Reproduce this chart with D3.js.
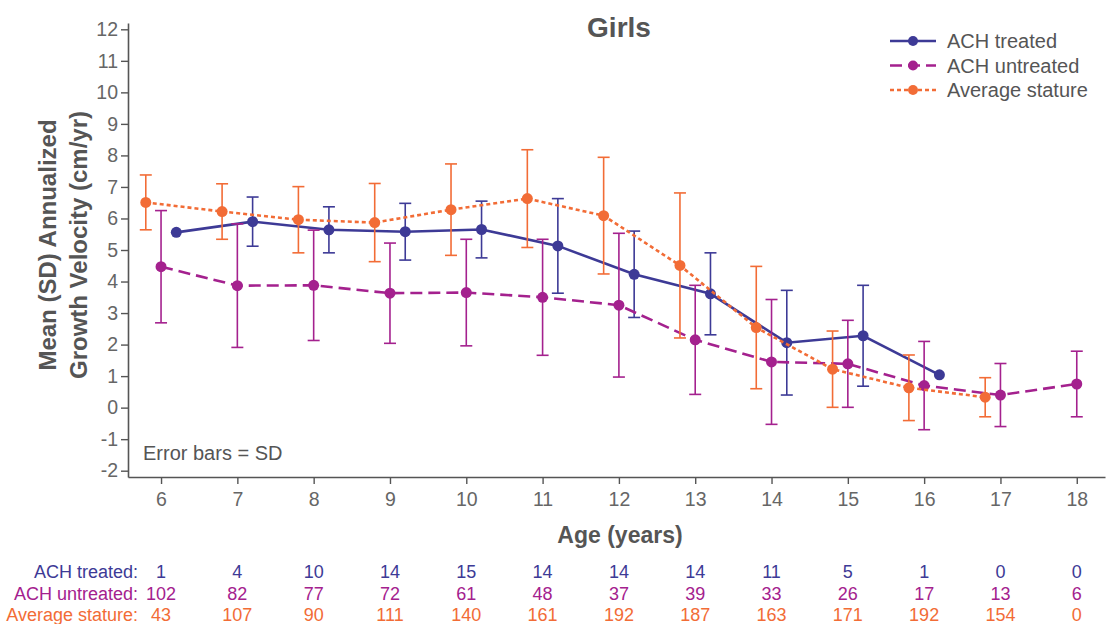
<!DOCTYPE html>
<html>
<head>
<meta charset="utf-8">
<script src="https://cdn.jsdelivr.net/npm/d3@7"></script>
<style>
  body { margin: 0; background: #fff; }
  svg { font-family: "Liberation Sans", Arial, sans-serif; }
</style>
</head>
<body>
<div id="chart"></div>
<script>
const ages = [6, 7, 8, 9, 10, 11, 12, 13, 14, 15, 16, 17, 18];

// mean and SD per age (null = no data)
const treatedMean = [5.56, 5.90, 5.64, 5.58, 5.65, 5.13, 4.23, 3.61, 2.06, 2.28, 1.04, null, null];
const treatedSD   = [null, 0.78, 0.73, 0.90, 0.90, 1.50, 1.37, 1.30, 1.66, 1.60, null, null, null];

const untreatedMean = [4.47, 3.87, 3.88, 3.63, 3.65, 3.50, 3.25, 2.15, 1.45, 1.39, 0.70, 0.40, 0.75];
const untreatedSD   = [1.78, 1.96, 1.75, 1.59, 1.69, 1.84, 2.28, 1.73, 1.98, 1.38, 1.40, 1.00, 1.04];

const averageMean = [6.51, 6.22, 5.96, 5.87, 6.28, 6.63, 6.09, 4.51, 2.54, 1.22, 0.63, 0.33, null];
const averageSD   = [0.87, 0.88, 1.05, 1.24, 1.45, 1.55, 1.85, 2.30, 1.94, 1.21, 1.04, 0.62, null];

const treatedN   = [1, 4, 10, 14, 15, 14, 14, 14, 11, 5, 1, 0, 0];
const untreatedN = [102, 82, 77, 72, 61, 48, 37, 39, 33, 26, 17, 13, 6];
const averageN   = [43, 107, 90, 111, 140, 161, 192, 187, 163, 171, 192, 154, 0];

const yTicks = d3.range(-2, 13);

const width = 1109, height = 624;
const grey = '#555';

const series = [
  { name: 'ACH treated', mean: treatedMean, sd: treatedSD, n: treatedN, color: '#3d3a96', dash: null, offset: 0.2 },
  { name: 'ACH untreated', mean: untreatedMean, sd: untreatedSD, n: untreatedN, color: '#a4218e', dash: '12,6', offset: 0 },
  { name: 'Average stature', mean: averageMean, sd: averageSD, n: averageN, color: '#f26c36', dash: '4,3', offset: -0.2 }
];

const svg = d3.select('#chart')
    .append('svg')
    .attr('width', width)
    .attr('height', height);

const x = d3.scaleLinear().domain([5.567, 18.37]).range([128, 1105]);
const y = d3.scaleLinear().domain([-2.2, 12.2]).range([477, 23]);

// axes (plain hyphen for negatives, like the original)
const yAxis = svg.append('g')
    .attr('transform', `translate(${x(5.567)},0)`)
    .call(d3.axisLeft(y).tickValues(yTicks).tickFormat(d => String(d))
        .tickSize(7).tickSizeOuter(0).tickPadding(3));
const xAxis = svg.append('g')
    .attr('transform', `translate(0,${y(-2.2)})`)
    .call(d3.axisBottom(x).tickValues(ages).tickFormat(d => String(d))
        .tickSize(7).tickSizeOuter(0).tickPadding(8));

[yAxis, xAxis].forEach(a => {
  a.select('.domain').attr('stroke', grey).attr('stroke-width', 1.6);
  a.selectAll('.tick line').attr('stroke', grey).attr('stroke-width', 1.4);
  a.selectAll('.tick text')
      .style('font-size', '19.5px')
      .style('font-family', '"Liberation Sans", Arial, sans-serif')
      .attr('fill', '#666');
});

// title and axis labels
svg.append('text')
    .attr('x', 619).attr('y', 37)
    .attr('text-anchor', 'middle')
    .style('font-size', '28px').style('font-weight', 'bold')
    .attr('fill', grey)
    .text('Girls');

svg.append('text')
    .attr('x', 620).attr('y', 543)
    .attr('text-anchor', 'middle')
    .style('font-size', '23px').style('font-weight', 'bold')
    .attr('fill', grey)
    .text('Age (years)');

const yLabel = svg.append('text')
    .attr('transform', 'translate(0,245) rotate(-90)')
    .attr('text-anchor', 'middle')
    .style('font-size', '24px').style('font-weight', 'bold')
    .attr('fill', grey);
yLabel.append('tspan').attr('x', 0).attr('y', 56).text('Mean (SD) Annualized');
yLabel.append('tspan').attr('x', 0).attr('y', 87).text('Growth Velocity (cm/yr)');

svg.append('text')
    .attr('x', 143).attr('y', 460)
    .style('font-size', '20px')
    .attr('fill', grey)
    .text('Error bars = SD');

// series: lines, error bars, markers
series.forEach(s => {
  const pts = ages.map((a, i) => ({ a: a + s.offset, m: s.mean[i], sd: s.sd[i] }))
      .filter(d => d.m !== null);

  const line = d3.line().x(d => x(d.a)).y(d => y(d.m));
  const g = svg.append('g');

  g.append('path')
      .datum(pts)
      .attr('d', line)
      .attr('fill', 'none')
      .attr('stroke', s.color)
      .attr('stroke-width', 2.6)
      .attr('stroke-dasharray', s.dash);

  const eb = pts.filter(d => d.sd !== null);
  const bars = g.selectAll('g.eb').data(eb).enter().append('g')
      .attr('stroke', s.color)
      .attr('stroke-width', 1.6);
  bars.append('line')
      .attr('x1', d => x(d.a)).attr('x2', d => x(d.a))
      .attr('y1', d => y(d.m + d.sd)).attr('y2', d => y(d.m - d.sd));
  bars.append('line')
      .attr('x1', d => x(d.a) - 6).attr('x2', d => x(d.a) + 6)
      .attr('y1', d => y(d.m + d.sd)).attr('y2', d => y(d.m + d.sd));
  bars.append('line')
      .attr('x1', d => x(d.a) - 6).attr('x2', d => x(d.a) + 6)
      .attr('y1', d => y(d.m - d.sd)).attr('y2', d => y(d.m - d.sd));

  g.selectAll('circle').data(pts).enter().append('circle')
      .attr('cx', d => x(d.a)).attr('cy', d => y(d.m))
      .attr('r', 5.5)
      .attr('fill', s.color);
});

// legend
const legend = svg.append('g');
series.forEach((s, i) => {
  const ly = 41 + i * 24.5;
  legend.append('line')
      .attr('x1', 890).attr('x2', 936).attr('y1', ly).attr('y2', ly)
      .attr('stroke', s.color).attr('stroke-width', 2.6)
      .attr('stroke-dasharray', s.dash);
  legend.append('circle').attr('cx', 913).attr('cy', ly).attr('r', 5).attr('fill', s.color);
  legend.append('text')
      .attr('x', 947).attr('y', ly).attr('dy', '0.35em')
      .style('font-size', '20px')
      .attr('fill', grey)
      .text(s.name);
});

// n table below the axis
series.forEach((s, i) => {
  const ry = 572 + i * 21.5;
  svg.append('text')
      .attr('x', 138).attr('y', ry).attr('dy', '0.35em')
      .attr('text-anchor', 'end')
      .style('font-size', '18px')
      .attr('fill', s.color)
      .text(s.name + ':');
  svg.append('g').selectAll('text').data(s.n).enter().append('text')
      .attr('x', (d, j) => x(ages[j])).attr('y', ry).attr('dy', '0.35em')
      .attr('text-anchor', 'middle')
      .style('font-size', '18px')
      .attr('fill', s.color)
      .text(d => d);
});
</script>
</body>
</html>
